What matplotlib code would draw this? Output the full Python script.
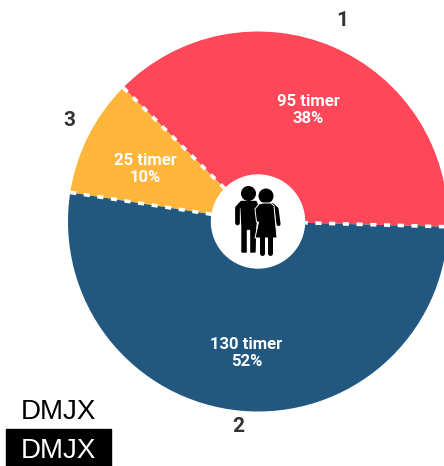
import numpy as np
import matplotlib
matplotlib.use('Agg')
import matplotlib.pyplot as plt
from matplotlib.patches import Circle, Rectangle, Polygon

groups = ['1', '3', '2']
timer = [95, 25, 130]
labels = ['95 timer\n38%', '25 timer\n10%', '130 timer\n52%']
colors = ['#FF475A', '#FFB63A', '#22587F']

H = 466
start = -1.6
cx, cy, radius = 258, H - 221.5, 190

fig = plt.figure(figsize=(4.44, 4.66), dpi=100)
ax = fig.add_axes([0, 0, 1, 1])
ax.pie(timer, colors=colors, startangle=start, counterclock=True, center=(cx, cy), radius=radius,
       wedgeprops={'linewidth': 0})
ax.set_aspect('equal')
ax.set_xlim(0, 444)
ax.set_ylim(0, H)
ax.axis('off')

# dashed separators between the slices
shares = np.cumsum(timer) / np.sum(timer) * 360
for a in shares:
    x = cx + radius * np.cos(np.radians(a + start))
    y = cy + radius * np.sin(np.radians(a + start))
    ax.plot([x, cx], [y, cy], color='white', lw=2.6, dashes=(1.7, 2.1), dash_capstyle='butt', zorder=3)

ax.add_patch(Circle((cx, cy), 46.5, color='white', zorder=4))


# couple icon
def py(y):
    return H - y


ax.add_patch(Circle((248.5, py(193.5)), 6.8, color='black', zorder=5))
ax.add_patch(Circle((266, py(196)), 6.8, color='black', zorder=5))
# man
ax.add_patch(Polygon([(241, py(201.5)), (256, py(201.5)), (258, py(206)), (255.5, py(228)), (255, py(252)),
                      (242, py(252)), (242, py(226)), (241, py(206))],
                     closed=True, color='black', zorder=5))
ax.plot([241, 237.5, 237.5], [py(204), py(208), py(223)], color='black', lw=3.4, solid_capstyle='round', zorder=5)
ax.add_patch(Rectangle((247.3, py(254)), 1.6, 24, color='white', zorder=6))
# woman
ax.add_patch(Polygon([(255, py(209)), (259, py(204)), (263, py(203)), (271, py(203)), (274, py(206)), (277, py(238)),
                      (255, py(238)), (258.5, py(222)), (256.5, py(222))],
                     closed=True, fc='black', ec='white', lw=0.7, zorder=6))
ax.plot([272, 276.5, 278.5], [py(205), py(209), py(224)], color='black', lw=3, solid_capstyle='round', zorder=5)
ax.plot([261.5, 261.5], [py(237), py(252.5)], color='black', lw=3.6, solid_capstyle='round', zorder=6)
ax.plot([269.5, 269.5], [py(237), py(252.5)], color='black', lw=3.6, solid_capstyle='round', zorder=6)

# slice labels
label_pos = [(308.5, 110), (145, 169), (246.5, 353)]
for t, (x, y) in zip(labels, label_pos):
    ax.text(x, py(y), t, color='white', family='Roboto', weight='bold', fontsize=12, ha='center', va='center',
            linespacing=1.2, zorder=6)

group_pos = [(342, 21), (69, 121), (238, 427)]
for g, (x, y) in zip(groups, group_pos):
    ax.text(x, py(y), g, color='#333333', family='Roboto', weight='bold', fontsize=15, ha='center', va='center')

# logo
ax.text(58, py(412), 'DMJX', color='black', family='Liberation Sans', fontsize=20, ha='center', va='center')
ax.add_patch(Rectangle((6, 0), 105, 37, color='black', zorder=5))
ax.text(58, py(451), 'DMJX', color='white', family='Liberation Sans', fontsize=20, ha='center', va='center',
        zorder=6)

plt.savefig('out.png', dpi=100)
